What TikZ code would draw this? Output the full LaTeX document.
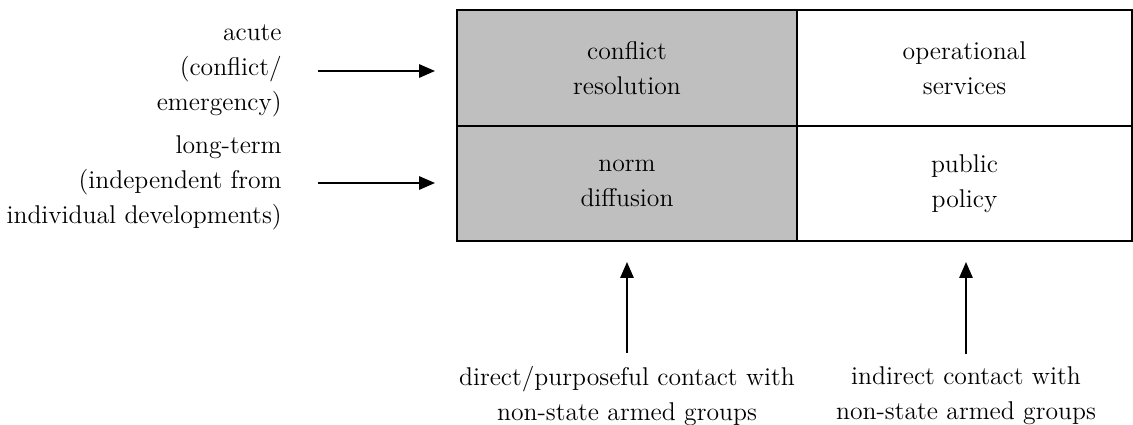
\documentclass[tikz,border=0pt]{standalone}
\usepackage{tikz}
\usetikzlibrary{arrows.meta}
\tikzset{
	txt/.style={inner sep=0pt, font={\fontsize{14.6}{19.9}\selectfont}},
	cell/.style={txt, draw, line width=1.1pt, outer sep=0pt, align=center},
	shaded/.style={cell, fill=black!25},
	arr/.style={line width=1.1pt, -{Triangle[length=9pt,width=7.5pt]}}
}

\begin{document}
\begin{tikzpicture}[x=0.02cm, y=-0.02cm]
	\useasboundingbox (0,0) rectangle (1133,425);
	\node[shaded, minimum width=6.8cm, minimum height=2.32cm] (conf) at (627,68) {conflict\\resolution};
	\node[cell, minimum width=6.7cm, minimum height=2.32cm] (oper) at (964.5,68) {operational\\services};
	\node[shaded, minimum width=6.8cm, minimum height=2.3cm] (norm) at (627,183.5) {norm\\diffusion};
	\node[cell, minimum width=6.7cm, minimum height=2.3cm] (publ) at (964.5,183.5) {public\\policy};
	\node[txt, align=right, anchor=east] (acute) at (282,71) {acute\\(conflict/\\emergency)};
	\node[txt, align=right, anchor=east] (long) at (282,183) {long-term\\(independent from\\individual developments)};
	\node[txt, align=center] (direct) at (627,396) {direct/purposeful contact with\\non-state armed groups};
	\node[txt, align=center] (indirect) at (966,396) {indirect contact with\\non-state armed groups};
	\draw[arr, shorten <=0.72cm, shorten >=0.44cm] (acute.east) -- (acute.east -| conf.west);
	\draw[arr, shorten <=0.72cm, shorten >=0.44cm] (long.east) -- (long.east -| norm.west);
	\draw[arr, shorten <=0.26cm, shorten >=0.42cm] (direct.north) -- (direct.north |- norm.south);
	\draw[arr, shorten <=0.26cm, shorten >=0.42cm] (indirect.north) -- (indirect.north |- publ.south);
\end{tikzpicture}
\end{document}
